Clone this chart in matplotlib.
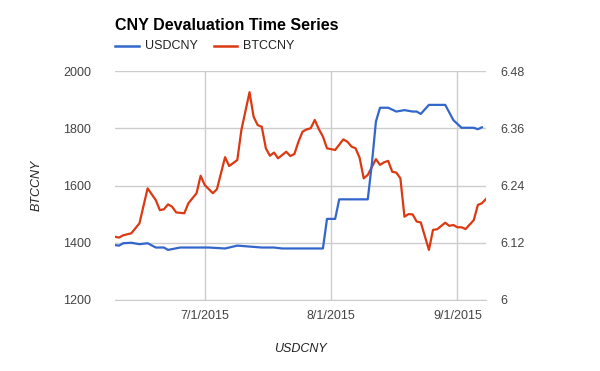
import matplotlib
matplotlib.use("Agg")
import matplotlib.pyplot as plt
import pandas as pd

plt.rcParams['font.family'] = ['Liberation Sans', 'DejaVu Sans']

# BTCCNY (left axis)
btc_dates = ["2015-06-09", "2015-06-10", "2015-06-11", "2015-06-13", "2015-06-15",
             "2015-06-17", "2015-06-19", "2015-06-20", "2015-06-21", "2015-06-22",
             "2015-06-23", "2015-06-24", "2015-06-26", "2015-06-27", "2015-06-29",
             "2015-06-30", "2015-07-01", "2015-07-03", "2015-07-04", "2015-07-06",
             "2015-07-07", "2015-07-09", "2015-07-10", "2015-07-12", "2015-07-13",
             "2015-07-14", "2015-07-15", "2015-07-16", "2015-07-17", "2015-07-18",
             "2015-07-19", "2015-07-21", "2015-07-22", "2015-07-23", "2015-07-24",
             "2015-07-25", "2015-07-26", "2015-07-27", "2015-07-28", "2015-07-29",
             "2015-07-30", "2015-07-31", "2015-08-02", "2015-08-04", "2015-08-05",
             "2015-08-06", "2015-08-07", "2015-08-08", "2015-08-09", "2015-08-10",
             "2015-08-12", "2015-08-13", "2015-08-14", "2015-08-15", "2015-08-16",
             "2015-08-17", "2015-08-18", "2015-08-19", "2015-08-20", "2015-08-21",
             "2015-08-22", "2015-08-23", "2015-08-25", "2015-08-26", "2015-08-27",
             "2015-08-29", "2015-08-30", "2015-08-31", "2015-09-01", "2015-09-02",
             "2015-09-03", "2015-09-05", "2015-09-06", "2015-09-07", "2015-09-08"]
btc_values = [1421, 1418, 1426, 1433, 1468,
              1590, 1549, 1514, 1517, 1534,
              1526, 1506, 1503, 1538, 1573,
              1634, 1602, 1573, 1587, 1699,
              1668, 1689, 1794, 1926, 1840,
              1811, 1805, 1730, 1704, 1715,
              1695, 1718, 1703, 1710, 1753,
              1788, 1796, 1800, 1829, 1797,
              1771, 1730, 1724, 1761, 1753,
              1736, 1730, 1697, 1625, 1637,
              1692, 1672, 1681, 1686, 1648,
              1645, 1625, 1491, 1500, 1499,
              1474, 1471, 1375, 1445, 1447,
              1470, 1459, 1462, 1454, 1454,
              1448, 1479, 1532, 1538, 1553]

# USDCNY (right axis)
usd_dates = ["2015-06-09", "2015-06-10", "2015-06-11", "2015-06-13", "2015-06-15",
             "2015-06-17", "2015-06-19", "2015-06-21", "2015-06-22", "2015-06-25",
             "2015-06-29", "2015-07-02", "2015-07-06", "2015-07-09", "2015-07-12",
             "2015-07-15", "2015-07-18", "2015-07-20", "2015-07-30", "2015-07-31",
             "2015-08-02", "2015-08-03", "2015-08-10", "2015-08-11", "2015-08-12",
             "2015-08-13", "2015-08-15", "2015-08-17", "2015-08-19", "2015-08-21",
             "2015-08-22", "2015-08-23", "2015-08-25", "2015-08-29", "2015-08-31",
             "2015-09-02", "2015-09-05", "2015-09-06", "2015-09-07"]
usd_values = [6.115, 6.114, 6.119, 6.120, 6.117,
              6.119, 6.110, 6.110, 6.105, 6.110,
              6.110, 6.110, 6.108, 6.114, 6.112,
              6.110, 6.110, 6.108, 6.108, 6.170,
              6.170, 6.211, 6.211, 6.285, 6.374,
              6.403, 6.403, 6.395, 6.398, 6.395,
              6.395, 6.390, 6.409, 6.409, 6.377,
              6.361, 6.361, 6.358, 6.362]

left_ticks = [1200, 1400, 1600, 1800, 2000]
right_ticks = [6.0, 6.12, 6.24, 6.36, 6.48]
right_labels = ["6", "6.12", "6.24", "6.36", "6.48"]
x_ticks = ["2015-07-01", "2015-08-01", "2015-09-01"]
x_labels = ["7/1/2015", "8/1/2015", "9/1/2015"]

blue = '#3366cc'
red = '#dc3912'
grid_c = '#cccccc'

btc_d = pd.to_datetime(btc_dates)
usd_d = pd.to_datetime(usd_dates)

fig = plt.figure(figsize=(6, 3.71), dpi=100)
ax = fig.add_axes([115/600, 1-300/371, (486-115)/600, (300-71)/371])
ax2 = ax.twinx()

ax.plot(btc_d, btc_values, color=red, lw=1.6, zorder=3)
ax2.plot(usd_d, usd_values, color=blue, lw=1.6, zorder=3)

ax.set_xlim(pd.Timestamp("2015-06-09"), pd.Timestamp("2015-09-08"))
ax.set_ylim(1200, 2000)
ax2.set_ylim(6.0, 6.48)

ax.set_yticks(left_ticks)
ax.set_yticklabels([str(v) for v in left_ticks])
ax2.set_yticks(right_ticks)
ax2.set_yticklabels(right_labels)
ax.set_xticks(pd.to_datetime(x_ticks))
ax.set_xticklabels(x_labels)

ax.grid(True, color=grid_c, lw=1)
ax.set_axisbelow(True)
for a in (ax, ax2):
    for s in a.spines.values():
        s.set_visible(False)
    a.tick_params(length=0, colors='#444444', labelsize=9)
ax.spines['bottom'].set_visible(True)
ax.spines['bottom'].set_color(grid_c)
ax.tick_params(axis='y', pad=17)
ax2.tick_params(axis='y', pad=10)
ax.tick_params(axis='x', pad=7)

ax.set_ylabel("BTCCNY", style='italic', fontsize=9, color='#222222', labelpad=15)
ax.set_xlabel("USDCNY", style='italic', fontsize=9, color='#222222', labelpad=15)

fig.text(115/600, 1-30/371, "CNY Devaluation Time Series", fontsize=11.5,
         fontweight='bold', color='#000000')

# legend
fig.add_artist(plt.Line2D([115/600, 139/600], [1-46/371, 1-46/371], color=blue, lw=1.8))
fig.text(145/600, 1-46/371, "USDCNY", fontsize=9, color='#222222', va='center')
fig.add_artist(plt.Line2D([214/600, 237/600], [1-46/371, 1-46/371], color=red, lw=1.8))
fig.text(243/600, 1-46/371, "BTCCNY", fontsize=9, color='#222222', va='center')

fig.savefig("out.png", dpi=100)
